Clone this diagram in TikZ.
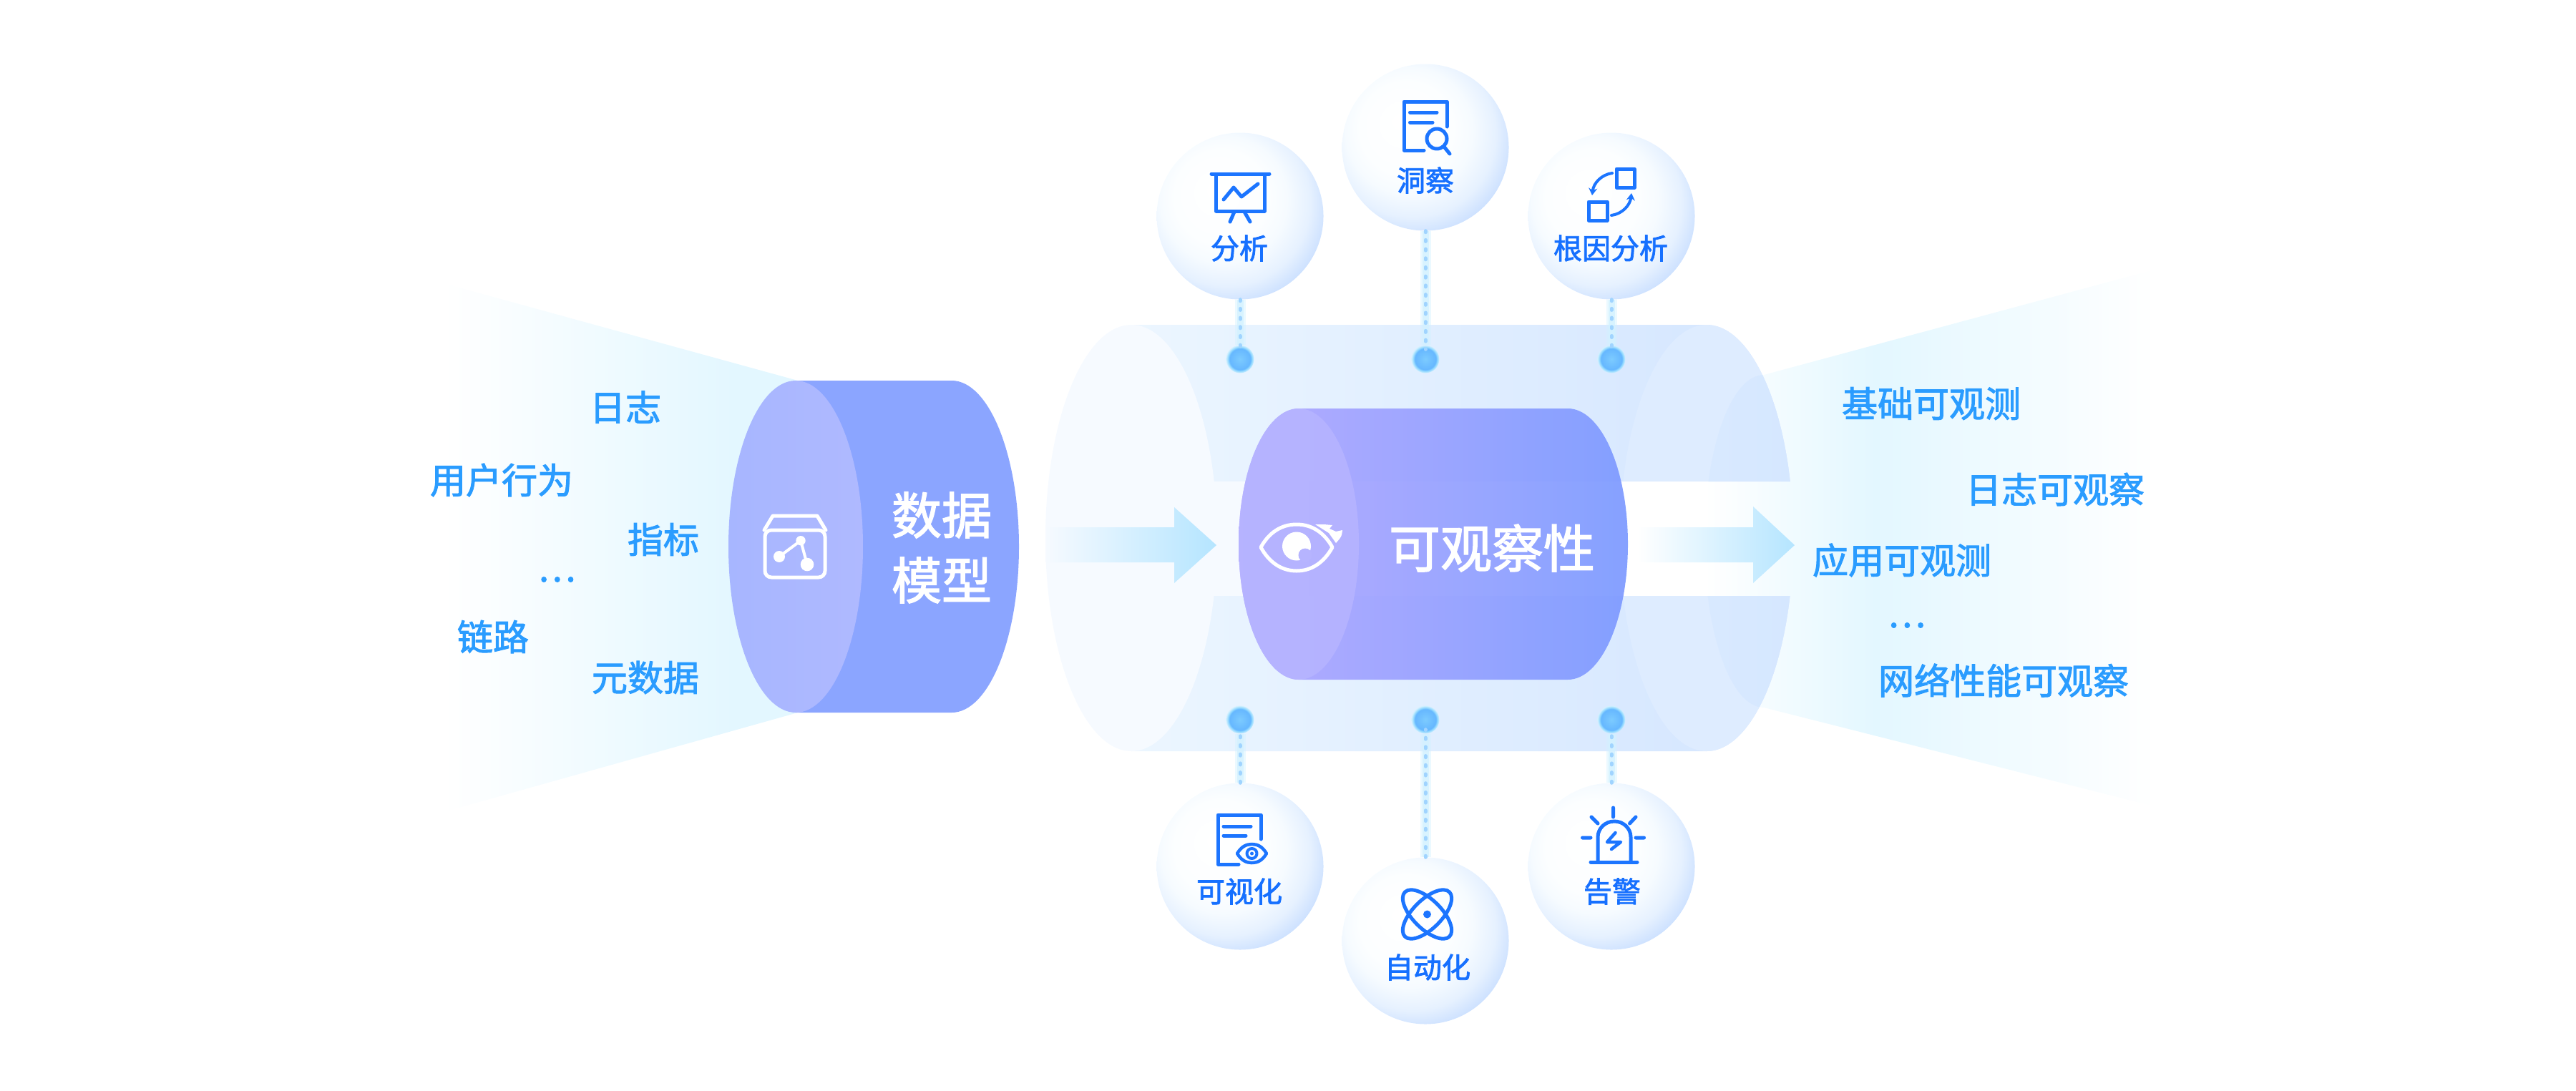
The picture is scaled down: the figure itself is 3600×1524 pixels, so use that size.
\documentclass[tikz,border=0pt]{standalone}
\usepackage{fontspec}
\setmainfont[FakeBold=2]{Noto Sans CJK SC}
\usetikzlibrary{arrows.meta}
\definecolor{lbl}{HTML}{2A9CFF}
\definecolor{ico}{HTML}{1C75FF}
\definecolor{balltxt}{HTML}{1670FF}
\definecolor{capR}{HTML}{DEECFF}
\definecolor{capL}{HTML}{F6FAFF}
\definecolor{ballA}{HTML}{F6FBFF}
\definecolor{ballB}{HTML}{E6F1FF}
\definecolor{ballC}{HTML}{CDE1FF}
\definecolor{ballM}{HTML}{FCFEFF}
\definecolor{dotA}{HTML}{7CCBFF}
\definecolor{dotB}{HTML}{66B7FF}
\definecolor{dotC}{HTML}{8AD4FF}
\definecolor{dotD}{HTML}{D3F1FF}
\definecolor{dashc}{HTML}{A0D4FF}
\definecolor{beamA}{HTML}{E3F7FF}
\definecolor{dataSide}{HTML}{8BA5FF}
\definecolor{dataFaceL}{HTML}{A7B6FF}
\definecolor{dataFaceR}{HTML}{AFB9FF}
\definecolor{bodyL}{HTML}{ECF6FF}
\definecolor{bodyR}{HTML}{D3E5FF}
\definecolor{overL}{HTML}{DCEBFF}
\definecolor{overR}{HTML}{D5E7FF}
\definecolor{arrowTip}{HTML}{B5E5FF}
\definecolor{innerL}{HTML}{B2A8FF}
\definecolor{innerR}{HTML}{7E9BFF}
\definecolor{innerFace}{HTML}{B6B4FF}
\pgfdeclareradialshading{ballshade}{\pgfpoint{-8bp}{8bp}}{color(0bp)=(white); color(14bp)=(ballM); color(19bp)=(ballA); color(25bp)=(ballB); color(29.6bp)=(ballC); color(50bp)=(ballC)}
\pgfdeclareradialshading{dotshade}{\pgfpointorigin}{color(0bp)=(dotA); color(19bp)=(dotB); color(21bp)=(dotC); color(25bp)=(dotD); color(50bp)=(dotD)}
\pgfdeclarehorizontalshading{beamL}{100bp}{color(0bp)=(white); color(25bp)=(white); color(66bp)=(beamA); color(75bp)=(beamA); color(100bp)=(beamA)}
\pgfdeclarehorizontalshading{beamR}{100bp}{color(0bp)=(white); color(25bp)=(white); color(44bp)=(beamA); color(75bp)=(white); color(100bp)=(white)}
\tikzset{
  x=1pt,y=-1pt,
  txt/.style={inner sep=0pt,text=lbl,font=\fontsize{50}{50}\selectfont},
  balllabel/.style={inner sep=0pt,text=balltxt,font=\fontsize{40}{40}\selectfont},
  big/.style={inner sep=0pt,text=white,font=\fontsize{70}{70}\selectfont},
  ballnode/.style={circle,inner sep=0pt,minimum size=233pt,shading=ballshade},
  dotnode/.style={circle,inner sep=0pt,minimum size=39pt,shading=dotshade},
  icon/.style={draw=ico,line width=5pt,line cap=round,line join=round},
  wicon/.style={draw=white,line width=5pt,line cap=round,line join=round},
  glowA/.style={draw=dotD,line width=15pt,opacity=.45},
  glowB/.style={draw=dotD,line width=9pt,opacity=.8},
  dashline/.style={draw=dashc,line width=5pt,line cap=round,dash pattern=on 2pt off 10.7pt,shorten >=-6pt},
}
\newcommand{\linkup}[2]{\draw[glowA] (#1) -- (#2);\draw[glowB] (#1) -- (#2);\draw[dashline] (#1) -- (#2);}
\begin{document}
\begin{tikzpicture}
\useasboundingbox (0,0) rectangle (3600,1524);
% left beam
\shade[shading=beamL] (620,396) -- (1115,532) -- (1115,996) -- (620,1135) -- cycle;
% right beam
\def\beampath{(3010,377) -- (2465,524) arc[start angle=-90,end angle=-270,x radius=83,y radius=232.5] -- (3010,1127) -- cycle}
\shade[shading=beamR] \beampath;
% data cylinder
\fill[dataSide] (1112,532) -- (1330,532) arc[start angle=-90,end angle=90,x radius=94,y radius=232] -- (1112,996) -- cycle;
\shade[left color=dataFaceL,right color=dataFaceR] (1112,764) ellipse [x radius=94,y radius=232];
% outer cylinder
\shade[left color=bodyL,right color=bodyR]
  (1581,454) -- (2385,454) arc[start angle=-90,end angle=-15.4,x radius=121,y radius=298] -- (1581,673) -- cycle;
\shade[left color=bodyL,right color=bodyR]
  (1581,1050) -- (2385,1050) arc[start angle=90,end angle=15.8,x radius=121,y radius=298] -- (1581,833) -- cycle;
\fill[capL] (1581,752) ellipse [x radius=120,y radius=298];
\fill[capL] (1581,673) rectangle (1830,833);
\begin{scope}
  \clip (2200,440) rectangle (2600,673) (2200,833) rectangle (2600,1060);
  \fill[capR] (2385,752) ellipse [x radius=121,y radius=298];
  \begin{scope}
    \clip \beampath;
    \shade[left color=overL,right color=overR] (2385,752) ellipse [x radius=121,y radius=298];
  \end{scope}
\end{scope}
% arrows
\shade[left color=capL,right color=arrowTip] (1461,737) -- (1641,737) -- (1641,709) -- (1700,762) -- (1641,815) -- (1641,786) -- (1461,786) -- cycle;
\shade[left color=white,right color=arrowTip] (2289,737) -- (2450,737) -- (2450,708) -- (2508,762) -- (2450,815) -- (2450,786) -- (2289,786) -- cycle;
% inner cylinder
\shade[left color=innerL,right color=innerR,fill opacity=.94]
  (1815,571) -- (2191,571) arc[start angle=-90,end angle=90,x radius=84,y radius=189.5] -- (1815,950) arc[start angle=90,end angle=270,x radius=84,y radius=189.5] -- cycle;
\fill[innerFace,fill opacity=.9] (1815,760.5) ellipse [x radius=84,y radius=189.5];
% balls
\node[ballnode] (bA) at (1733,302) {};
\node[ballnode] (bB) at (1992,206) {};
\node[ballnode] (bC) at (2252,302) {};
\node[ballnode] (bD) at (1733,1211) {};
\node[ballnode] (bE) at (1992,1315) {};
\node[ballnode] (bF) at (2252,1211) {};
% dots
\node[dotnode] (dA) at (1733,502) {};
\node[dotnode] (dB) at (1992,502) {};
\node[dotnode] (dC) at (2252,502) {};
\node[dotnode] (dD) at (1733,1006) {};
\node[dotnode] (dE) at (1992,1006) {};
\node[dotnode] (dF) at (2252,1006) {};
% connectors
\linkup{bA}{dA}\linkup{bB}{dB}\linkup{bC}{dC}
\linkup{bD}{dD}\linkup{bE}{dE}\linkup{bF}{dF}
% ball labels
\node[balllabel] (lA) at (1732,347) {分析};
\node[balllabel] (lB) at (1992,252) {洞察};
\node[balllabel] (lC) at (2251,347) {根因分析};
\node[balllabel] (lD) at (1732,1246) {可视化};
\node[balllabel] (lE) at (1995,1352) {自动化};
\node[balllabel] (lF) at (2253,1246) {告警};
% left labels
\node[txt] (t1) at (874,569) {日志};
\node[txt] (t2) at (701,671) {用户行为};
\node[txt] (t3) at (927,754) {指标};
\node[txt] (t4) at (778,810) {…};
\node[txt] (t5) at (689,890) {链路};
\node[txt] (t6) at (902,947) {元数据};
% right labels
\node[txt] (r1) at (2699,564) {基础可观测};
\node[txt] (r2) at (2872,684) {日志可观察};
\node[txt] (r3) at (2658,783) {应用可观测};
\node[txt] (r4) at (2664.5,874) {…};
\node[txt] (r5) at (2800,951) {网络性能可观察};
% cylinder labels
\node[big] (m1) at (1316,720) {数据};
\node[big] (m2) at (1316,811) {模型};
\node[big,font=\fontsize{72}{72}\selectfont] (m3) at (2085,766) {可观察性};
% data icon
\draw[wicon,rounded corners=9pt] (1069,741) rectangle (1153,807);
\draw[wicon] (1068,741) -- (1080,721) -- (1142,721) -- (1154,741);
\draw[white,line width=4pt] (1089,778) -- (1119,755.7) -- (1128,789);
\fill[white] (1089,778) circle [radius=8] (1119,755.7) circle [radius=6.7] (1128,789) circle [radius=9.3];
% eye icon
\draw[wicon] (1762,765) .. controls (1773,745) and (1790,733) .. (1812,733) .. controls (1834,733) and (1851,745) .. (1862,765) .. controls (1851,785) and (1834,798) .. (1812,798) .. controls (1790,798) and (1773,785) .. (1762,765) -- cycle;
\fill[white] (1812,763.5) circle [radius=20];
\fill[innerFace] (1824,776) circle [radius=9.5];
\fill[white] (1838,733) -- (1850,733) -- (1862,734) -- (1858,739) -- (1867,743) -- (1876,741) .. controls (1875,750) .. (1867,759) -- (1857,745) -- cycle;
% board icon
\draw[icon] (1693,243) -- (1774,243);
\draw[icon] (1699.5,244) -- (1699.5,295) -- (1767,295) -- (1767,244);
\draw[icon] (1725,296) -- (1719,310) (1739,296) -- (1747,310);
\draw[icon] (1710,279) -- (1724,262) -- (1735,275) -- (1758,257);
% doc-search icon
\draw[icon] (2022,177) -- (2022,142) -- (1962,142) -- (1962,210) -- (1990,210);
\draw[icon] (1970.5,157) -- (2008,157) (1970.5,171) -- (2002,171);
\draw[icon] (2008,194) circle [radius=14];
\draw[icon] (2018,205) -- (2026,215);
% transfer icon
\draw[icon] (2259,236) rectangle (2284,262);
\draw[icon] (2220,282) rectangle (2246,308);
\draw[icon,line width=4pt,-{Stealth[length=10pt,width=12pt]}] (2253,242) .. controls (2238,244) and (2227,256) .. (2225,273);
\draw[icon,line width=4pt,-{Stealth[length=10pt,width=12pt]}] (2252,301) .. controls (2267,299) and (2278,287) .. (2280,270);
% doc-eye icon
\draw[icon] (1762,1173) -- (1762,1139) -- (1702,1139) -- (1702,1208) -- (1731,1208);
\draw[icon] (1710,1155) -- (1748,1155) (1710,1168) -- (1741,1168);
\draw[icon,line width=4.5pt] (1729,1193) .. controls (1735,1183) and (1742,1180) .. (1749.5,1180) .. controls (1757,1180) and (1764,1183) .. (1770,1193) .. controls (1764,1203) and (1757,1206) .. (1749.5,1206) .. controls (1742,1206) and (1735,1203) .. (1729,1193) -- cycle;
\draw[icon,line width=4pt] (1749.5,1193) circle [radius=7];
\fill[ico] (1749.5,1193) circle [radius=2.5];
% atom icon
\draw[icon] (1994.5,1278) ellipse [x radius=44,y radius=20,rotate=45];
\draw[icon] (1994.5,1278) ellipse [x radius=44,y radius=20,rotate=-45];
\fill[ico] (1994.5,1278) circle [radius=5.5];
% alarm icon
\draw[icon] (2233,1204) -- (2233,1170) arc[start angle=180,end angle=360,x radius=23,y radius=22] -- (2279,1204);
\draw[icon] (2223,1205) -- (2288,1205);
\draw[icon,line width=4.5pt] (2257.5,1164) -- (2246,1177) -- (2265,1177) -- (2252,1187);
\draw[icon] (2254.5,1129) -- (2254.5,1142) (2224,1142) -- (2233,1151) (2286,1142) -- (2277.5,1151) (2211.5,1171) -- (2223,1171) (2286,1171) -- (2297.5,1171);
\end{tikzpicture}
\end{document}
